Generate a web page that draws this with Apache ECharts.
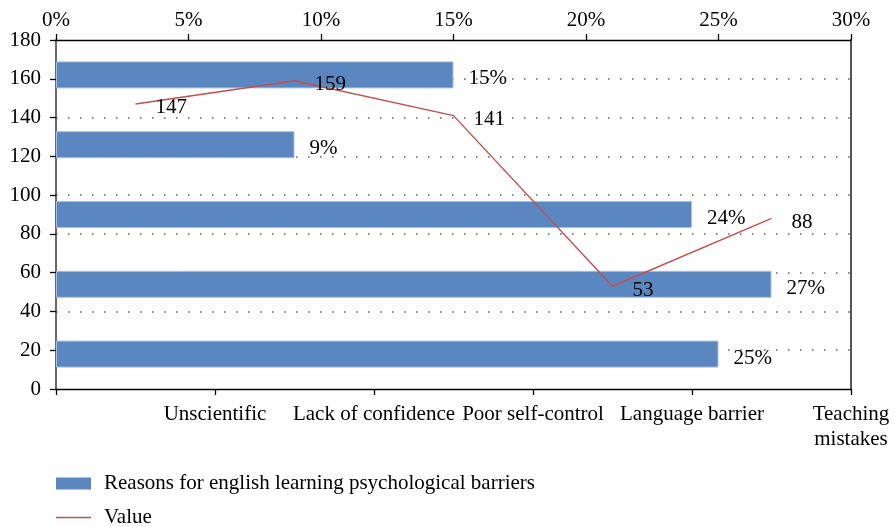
<!DOCTYPE html>
<html>
<head>
<meta charset="utf-8">
<script src="https://cdn.jsdelivr.net/npm/echarts@6/dist/echarts.min.js"></script>
<style>
  html, body { margin: 0; padding: 0; background: #fff; }
  #chart { width: 895px; height: 527px; }
</style>
</head>
<body>
<div id="chart"></div>
<script>
// categories along the bottom axis (also the bar rows, bottom to top)
const categories = ['Unscientific', 'Lack of confidence', 'Poor self-control', 'Language barrier', 'Teaching\nmistakes'];
// bar lengths in percent, bottom row first
const barPercent = [25, 27, 24, 9, 15];
// red line values
const lineValues = [147, 159, 141, 53, 88];
const pctTicks = [0, 30, 5];
const valTicks = [0, 180, 20];

const barName = 'Reasons for english learning psychological barriers';
const lineName = 'Value';

const font = 'Liberation Serif';
const fs = 21;
const band = (851 - 56) / categories.length;

const chart = echarts.init(document.getElementById('chart'));

const legendText = { fontFamily: font, fontSize: fs, color: '#000', lineHeight: 20, padding: [3, 0, 0, 8] };

chart.setOption({
  animation: false,
  textStyle: { fontFamily: font, color: '#000' },
  grid: { left: 56, right: 44, top: 40, bottom: 138 },
  legend: [
    {
      left: 56, top: 472, padding: 0,
      itemWidth: 35, itemHeight: 12,
      textStyle: legendText,
      data: [{ name: barName, icon: 'rect', itemStyle: { borderWidth: 0 } }]
    },
    {
      left: 56, top: 506, padding: 0,
      itemWidth: 35, itemHeight: 12,
      textStyle: legendText,
      data: [{ name: lineName, icon: 'path://M0,0L35,0L35,1.4L0,1.4Z' }]
    }
  ],
  xAxis: [
    {
      type: 'value',
      position: 'top',
      min: pctTicks[0],
      max: pctTicks[1],
      interval: pctTicks[2],
      axisLine: { show: true, onZero: false, lineStyle: { color: '#000', width: 1.3 } },
      axisTick: { show: true, length: 6, lineStyle: { color: '#000', width: 1.3 } },
      axisLabel: { formatter: '{value}%', fontSize: fs, color: '#000', margin: 9 },
      splitLine: { show: false }
    },
    {
      type: 'category',
      position: 'bottom',
      data: categories,
      boundaryGap: true,
      axisLine: { show: true, onZero: false, lineStyle: { color: '#000', width: 1.3 } },
      axisTick: { show: true, length: 6, lineStyle: { color: '#000', width: 1.3 } },
      axisLabel: {
        interval: 0,
        fontSize: fs,
        color: '#000',
        margin: 13,
        lineHeight: 25,
        padding: [0, 0, 0, band]
      }
    }
  ],
  yAxis: [
    {
      type: 'value',
      position: 'left',
      min: valTicks[0],
      max: valTicks[1],
      interval: valTicks[2],
      axisLine: { show: true, onZero: false, lineStyle: { color: '#444', width: 1.6 } },
      axisTick: { show: true, length: 6, lineStyle: { color: '#000', width: 1.3 } },
      axisLabel: { fontSize: fs, color: '#000', margin: 15, padding: [6, 0, 0, 0] },
      splitLine: {
        show: true,
        showMinLine: false,
        showMaxLine: false,
        lineStyle: { color: '#666', width: 1.6, type: [1.6, 10.4] }
      }
    },
    {
      type: 'category',
      position: 'right',
      data: categories,
      boundaryGap: true,
      axisLine: { show: true, onZero: false, lineStyle: { color: '#555', width: 2 } },
      axisTick: { show: false },
      axisLabel: { show: false },
      splitLine: { show: false }
    }
  ],
  series: [
    {
      name: barName,
      type: 'bar',
      xAxisIndex: 0,
      yAxisIndex: 1,
      data: barPercent,
      barWidth: 27,
      itemStyle: { color: '#5A87BF', borderColor: '#A9BFDF', borderWidth: 1 },
      label: {
        show: true,
        position: 'right',
        distance: 15,
        offset: [0, 4],
        formatter: '{c}%',
        fontFamily: font,
        fontSize: fs,
        color: '#000'
      },
      z: 2
    },
    {
      name: lineName,
      type: 'line',
      xAxisIndex: 1,
      yAxisIndex: 0,
      data: lineValues,
      symbol: 'circle',
      symbolSize: 0.01,
      showSymbol: true,
      lineStyle: { color: '#C0504D', width: 1.4 },
      itemStyle: { color: '#C0504D' },
      label: {
        show: true,
        position: 'right',
        distance: 20,
        offset: [0, 4],
        fontFamily: font,
        fontSize: fs,
        color: '#000'
      },
      z: 3
    }
  ]
});
</script>
</body>
</html>
